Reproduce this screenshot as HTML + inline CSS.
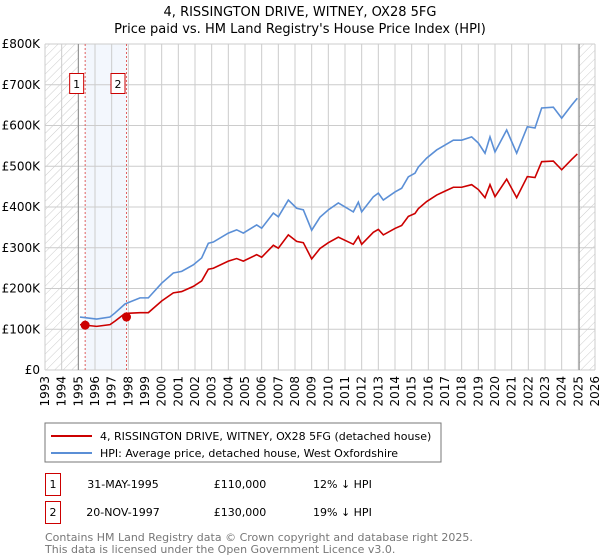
<!DOCTYPE html>
<html><head><meta charset="utf-8"><style>
body{margin:0;background:#fff;font-family:"DejaVu Sans","Liberation Sans",sans-serif;}
svg{display:block}
</style></head><body>
<svg width="600" height="560" viewBox="0 0 600 560" xmlns="http://www.w3.org/2000/svg">
<defs><pattern id="hatch" patternUnits="userSpaceOnUse" width="6" height="6" patternTransform="rotate(45)"><line x1="0" y1="0" x2="0" y2="6" stroke="#ccc" stroke-width="1"/></pattern></defs>
<text x="300" y="16" text-anchor="middle" font-size="13" fill="#000">4, RISSINGTON DRIVE, WITNEY, OX28 5FG</text>
<text x="300" y="33" text-anchor="middle" font-size="13" fill="#000">Price paid vs. HM Land Registry's House Price Index (HPI)</text>
<g id="plot"></g>
<rect x="45" y="423" width="396" height="39" fill="#fff" stroke="#777"/>
<line x1="51" y1="436" x2="92" y2="436" stroke="#cc0000" stroke-width="2"/>
<text x="100" y="440" font-size="11">4, RISSINGTON DRIVE, WITNEY, OX28 5FG (detached house)</text>
<line x1="51" y1="453" x2="92" y2="453" stroke="#5b8fd6" stroke-width="2"/>
<text x="100" y="457" font-size="11">HPI: Average price, detached house, West Oxfordshire</text>
<g font-size="11">
<rect x="45.5" y="473.5" width="15" height="22" fill="#fff" stroke="#cc0000"/>
<text x="53" y="488" text-anchor="middle">1</text>
<text x="123" y="488" text-anchor="middle">31-MAY-1995</text>
<text x="240" y="488" text-anchor="middle">£110,000</text>
<text x="313" y="488">12% ↓ HPI</text>
<rect x="45.5" y="501.5" width="15" height="22" fill="#fff" stroke="#cc0000"/>
<text x="53" y="516" text-anchor="middle">2</text>
<text x="123" y="516" text-anchor="middle">20-NOV-1997</text>
<text x="240" y="516" text-anchor="middle">£130,000</text>
<text x="313" y="516">19% ↓ HPI</text>
</g>
<text x="45" y="541" font-size="11" fill="#777">Contains HM Land Registry data © Crown copyright and database right 2025.</text>
<text x="45" y="553" font-size="11" fill="#777">This data is licensed under the Open Government Licence v3.0.</text>
</svg>
<script>
const yTicks=[0,100,200,300,400,500,600,700,800];
const yTickLabels=["£0","£100K","£200K","£300K","£400K","£500K","£600K","£700K","£800K"];
const years=[1993,1994,1995,1996,1997,1998,1999,2000,2001,2002,2003,2004,2005,2006,2007,2008,2009,2010,2011,2012,2013,2014,2015,2016,2017,2018,2019,2020,2021,2022,2023,2024,2025,2026];
const hpiT=[1995.1,1996.1,1996.9,1997.2,1997.8,1998.7,1999.2,2000,2000.7,2001.2,2001.9,2002.4,2002.8,2003.1,2004,2004.5,2004.9,2005.7,2006,2006.7,2007,2007.6,2008.1,2008.5,2009.0,2009.5,2010,2010.6,2011.5,2011.8,2012,2012.7,2013,2013.3,2014,2014.4,2014.8,2015.2,2015.4,2015.9,2016.5,2017,2017.5,2018,2018.6,2019,2019.4,2019.7,2020,2020.7,2021.3,2021.94,2022.4,2022.8,2023.5,2024,2024.6,2024.94];
const hpiV=[130,125,130,140,162,177,177,213,238,242,258,275,311,314,336,344,336,356,348,385,376,417,397,393,343,375,393,410,388,412,388,425,434,417,437,446,474,483,498,520,540,552,564,564,572,557,532,572,535,589,532,597,594,643,645,618,650,667];
const saleT=[1995.41,1997.89];
const saleV=[110,130];
const saleLabels=["1","2"];
const NS="http://www.w3.org/2000/svg";
const X0=45,X1=595,Y0=370,Y1=44,END=2025.05;
const xs=t=>X0+(t-1993)*(X1-X0)/33;
const ys=v=>Y0-v*(Y0-Y1)/800;
const g=document.getElementById('plot');
function mk(tag,attrs){const e=document.createElementNS(NS,tag);for(const k in attrs)e.setAttribute(k,attrs[k]);g.appendChild(e);return e;}
let e;
e=mk('rect',{x:X0,y:Y1,width:X1-X0,height:Y0-Y1,fill:'#fff'});


e=mk('rect',{x:X0,y:Y1,width:xs(1995)-X0,height:Y0-Y1,fill:'url(#hatch)'});


e=mk('rect',{x:xs(END),y:Y1,width:X1-xs(END),height:Y0-Y1,fill:'url(#hatch)'});


e=mk('rect',{x:xs(saleT[0]),y:Y1,width:xs(saleT[1])-xs(saleT[0]),height:Y0-Y1,fill:'#eef3fc',opacity:0.7});


years.forEach(y=>{
 e=mk('line',{x1:xs(y),x2:xs(y),y1:Y1,y2:Y0,stroke:'#ccc','stroke-width':1});
 
 
 e=mk('text',{x:0,y:0,'font-size':12,'text-anchor':'end',transform:`translate(${xs(y)+4},${Y0+6}) rotate(-90)`});
 e.textContent=y;
 
 
});
yTicks.forEach((v,i)=>{
 e=mk('line',{x1:X0,x2:X1,y1:ys(v),y2:ys(v),stroke:'#ccc','stroke-width':1});
 
 
 e=mk('text',{x:40,y:ys(v)+4,'font-size':12,'text-anchor':'end'});
 e.textContent=yTickLabels[i];
 
 
});
e=mk('line',{x1:xs(1995),x2:xs(1995),y1:Y1,y2:Y0,stroke:'#888'});


e=mk('line',{x1:xs(END),x2:xs(END),y1:Y1,y2:Y0,stroke:'#888'});


saleT.forEach((t,i)=>{
 e=mk('line',{x1:xs(t),x2:xs(t),y1:Y1,y2:Y0,stroke:'#e06060','stroke-dasharray':'2,2'});
 
 
 e=mk('rect',{x:xs(t)-15.5,y:73.5,width:14,height:20,fill:'#fff',stroke:'#cc0000'});
 
 
 e=mk('text',{x:xs(t)-8.5,y:88,'font-size':11,'text-anchor':'middle'});
 e.textContent=saleLabels[i];
 
 
});
function hpiAt(t){for(let i=0;i<hpiT.length-1;i++){if(t<=hpiT[i+1])return hpiV[i]+(hpiV[i+1]-hpiV[i])*(t-hpiT[i])/(hpiT[i+1]-hpiT[i]);}return hpiV[hpiV.length-1];}
const r1=saleV[0]/hpiAt(saleT[0]), r2=saleV[1]/hpiAt(saleT[1]);
e=mk('polyline',{points:hpiT.map((t,i)=>xs(t)+','+ys(hpiV[i])).join(' '),fill:'none',stroke:'#5b8fd6','stroke-width':1.6});


e=mk('polyline',{points:hpiT.map((t,i)=>xs(t)+','+ys(hpiV[i]*(t<saleT[1]?r1:r2))).join(' '),fill:'none',stroke:'#cc0000','stroke-width':1.6});


saleT.forEach((t,i)=>{
 e=mk('circle',{cx:xs(t),cy:ys(saleV[i]),r:4.5,fill:'#cc0000'});
 
 
});
</script>
</body></html>
